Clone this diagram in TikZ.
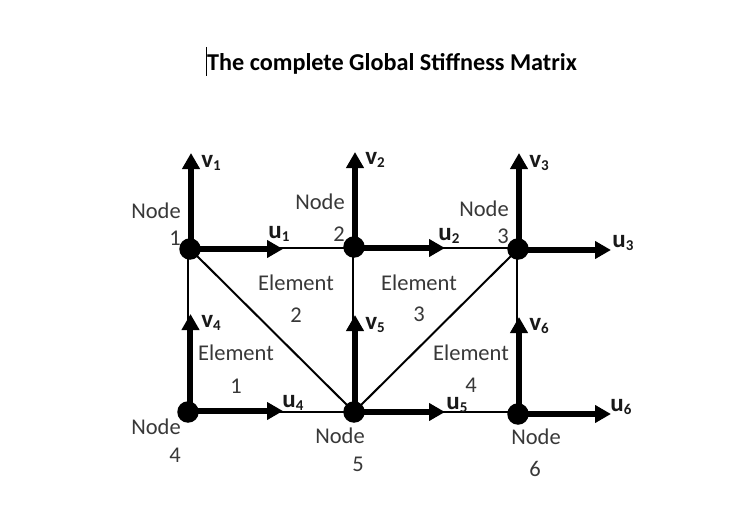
\documentclass[tikz,border=0pt]{standalone}
\usepackage{fontspec}
\setmainfont{Carlito}
\usetikzlibrary{arrows.meta}
\newcommand{\dof}[2]{{\bfseries #1\raisebox{-2.5pt}{\fontsize{15}{15}\selectfont #2}}}
\tikzset{
  x=1pt,y=-1pt,
  joint/.style={circle,fill=black,draw=none,minimum size=21.5pt,inner sep=0pt},
  member/.style={draw=black,line width=2pt},
  dofarrow/.style={draw=black,line width=5.6pt,-{Triangle[length=16pt,width=17pt]}},
  txt/.style={font=\fontsize{22.5}{24}\selectfont,text=black!78,inner sep=0pt,anchor=center},
  doflabel/.style={font=\fontsize{25}{26}\selectfont,text=black!90,inner sep=0pt,anchor=center},
  titletxt/.style={font=\fontsize{24.2}{26}\selectfont\bfseries,inner sep=0pt,anchor=west,text=black}
}
\begin{document}
\begin{tikzpicture}
\useasboundingbox[fill=white] (0,0) rectangle (732,511);
% title and text cursor
\node[titletxt] (title) at (207,64) {The complete Global Stiffness Matrix};
\coordinate (curT) at (206.5,47);
\coordinate (curB) at (206.5,76);
\draw[line width=0.8pt] (curT) -- (curB);
% joints (positions)
\coordinate (p1) at (190,249);
\coordinate (p2) at (354,247);
\coordinate (p3) at (518,249);
\coordinate (p4) at (188,412);
\coordinate (p5) at (354,412);
\coordinate (p6) at (518,414);
% thin members
\coordinate (a1) at (188,249);
\coordinate (a4) at (188,412);
\draw[member] (a1) -- (a4);
\coordinate (b2) at (353,247);
\coordinate (b5) at (353,412);
\draw[member] (b2) -- (b5);
\coordinate (c3) at (517,249);
\coordinate (c6) at (517,413);
\draw[member] (c3) -- (c6);
\coordinate (d1) at (190,247.5);
\coordinate (d3) at (518,247.5);
\draw[member] (d1) -- (d3);
\coordinate (e4) at (188,411.5);
\coordinate (e6) at (518,411.5);
\draw[member] (e4) -- (e6);
\draw[member] (p1) -- (p5);
\draw[member] (p3) -- (p5);
% arrow tips
\coordinate (tv1) at (191,153);
\coordinate (tv2) at (355,152);
\coordinate (tv3) at (519,153);
\coordinate (tv4) at (190.5,314);
\coordinate (tv5) at (355,315);
\coordinate (tv6) at (519,317);
\coordinate (tu1) at (283,249);
\coordinate (tu2) at (445,248);
\coordinate (tu3) at (611,250);
\coordinate (tu4) at (283,411);
\coordinate (tu5) at (445,412);
\coordinate (tu6) at (611,414);
\draw[dofarrow] (p1 -| tv1) -- (tv1);
\draw[dofarrow] (p2 -| tv2) -- (tv2);
\draw[dofarrow] (p3 -| tv3) -- (tv3);
\draw[dofarrow] (p4 -| tv4) -- (tv4);
\draw[dofarrow] (p5 -| tv5) -- (tv5);
\draw[dofarrow] (p6 -| tv6) -- (tv6);
\draw[dofarrow] (p1 |- tu1) -- (tu1);
\draw[dofarrow] (p2 |- tu2) -- (tu2);
\draw[dofarrow] (p3 |- tu3) -- (tu3);
\draw[dofarrow] (p4 |- tu4) -- (tu4);
\draw[dofarrow] (p5 |- tu5) -- (tu5);
\draw[dofarrow] (p6 |- tu6) -- (tu6);
% joints
\node[joint] (n1) at (p1) {};
\node[joint] (n2) at (p2) {};
\node[joint] (n3) at (p3) {};
\node[joint] (n4) at (p4) {};
\node[joint] (n5) at (p5) {};
\node[joint] (n6) at (p6) {};
% dof labels
\node[doflabel] (lv1) at (211,163) {\dof{v}{1}};
\node[doflabel] (lv2) at (375,160) {\dof{v}{2}};
\node[doflabel] (lv3) at (539,163) {\dof{v}{3}};
\node[doflabel] (lv4) at (211,323) {\dof{v}{4}};
\node[doflabel] (lv5) at (375,325) {\dof{v}{5}};
\node[doflabel] (lv6) at (539,326) {\dof{v}{6}};
\node[doflabel] (lu1) at (279,234) {\dof{u}{1}};
\node[doflabel] (lu2) at (449,236) {\dof{u}{2}};
\node[doflabel] (lu3) at (623,243) {\dof{u}{3}};
\node[doflabel] (lu4) at (293,403) {\dof{u}{4}};
\node[doflabel] (lu5) at (457,405) {\dof{u}{5}};
\node[doflabel] (lu6) at (621,407) {\dof{u}{6}};
% node captions
\node[txt] (c1a) at (156,211) {Node};
\node[txt] (c1b) at (175,238) {1};
\node[txt] (c2a) at (320,202) {Node};
\node[txt] (c2b) at (339,234) {2};
\node[txt] (c3a) at (484,209) {Node};
\node[txt] (c3b) at (503,236) {3};
\node[txt] (c4a) at (156,427) {Node};
\node[txt] (c4b) at (175,455) {4};
\node[txt] (c5a) at (340,436) {Node};
\node[txt] (c5b) at (358,464) {5};
\node[txt] (c6a) at (536,437) {Node};
\node[txt] (c6b) at (535,469) {6};
% element captions
\node[txt] (e1a) at (236,353) {Element};
\node[txt] (e1b) at (236,386) {1};
\node[txt] (e2a) at (296,283) {Element};
\node[txt] (e2b) at (296,315) {2};
\node[txt] (e3a) at (419,283) {Element};
\node[txt] (e3b) at (419,314) {3};
\node[txt] (e4a) at (471,353) {Element};
\node[txt] (e4b) at (471,385) {4};
\end{tikzpicture}
\end{document}
